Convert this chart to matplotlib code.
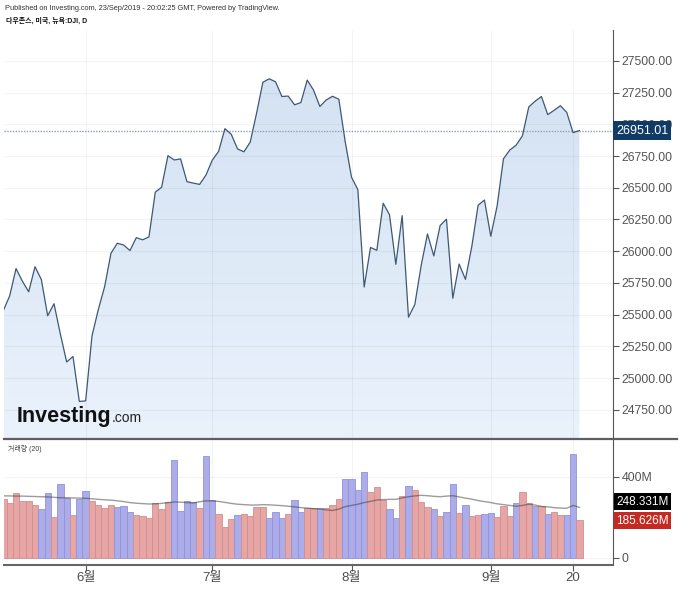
import numpy as np
import matplotlib.pyplot as plt
import matplotlib.transforms as mtransforms
from matplotlib.colors import LinearSegmentedColormap
from matplotlib.lines import Line2D
from matplotlib.patches import Polygon

plt.rcParams['font.family'] = ['Liberation Sans', 'Noto Sans CJK KR']

# daily closes, 14 May 2019 .. 23 Sep 2019 (trading days)
closes = [25532.05, 25648.02, 25862.68, 25764.00, 25679.90, 25877.33, 25776.61, 25490.47, 25585.69,
          25347.77, 25126.41, 25169.88, 24815.04,
          24819.78, 25332.18, 25539.57, 25720.66, 25983.94, 26062.68, 26048.51, 26004.83, 26106.77,
          26089.61, 26112.53, 26465.54, 26504.00, 26753.17, 26719.13, 26727.54, 26548.22, 26536.82,
          26526.58, 26599.96,
          26717.43, 26786.68, 26966.00, 26922.12, 26806.14, 26783.49, 26860.20, 27088.08, 27332.03,
          27359.16, 27335.63, 27219.85, 27222.97, 27154.20, 27171.90, 27349.19, 27269.97, 27140.98,
          27192.45, 27221.35, 27198.02, 26864.27,
          26583.42, 26485.01, 25717.74, 26029.52, 26007.07, 26378.19, 26287.44, 25896.44, 26279.91,
          25479.42, 25579.39, 25886.01, 26135.79, 25962.44, 26202.73, 26252.24, 25628.90, 25898.83,
          25777.90, 26036.10, 26362.25, 26403.28,
          26118.02, 26355.47, 26728.15, 26797.46, 26835.51, 26909.43, 27137.04, 27182.45, 27219.52,
          27076.82, 27110.80, 27147.08, 27094.79, 26935.07, 26951.01]

# volume in millions, r = up candle, b = down candle
volumes = [290, 270, 318, 280, 280, 258, 239, 318, 201, 364, 295, 212, 290,
           328, 280, 258, 245, 258, 250, 253, 224, 212, 207, 196, 270, 240, 275, 484, 229, 280, 275,
           245, 500,
           283, 218, 151, 190, 212, 218, 207, 250, 250, 197, 224, 197, 218, 285, 224, 246, 245, 243,
           243, 259, 290, 388,
           388, 333, 421, 322, 349, 283, 239, 197, 306, 353, 334, 276, 251, 239, 207, 224, 364, 223,
           258, 207, 211, 217,
           222, 201, 255, 207, 270, 323, 270, 253, 253, 217, 224, 212, 212, 510, 185.626]
vol_dir = list('rrrrrrbbrbbrb'
               'brrrrbbbrrrrrrbbbbrb'
               'brrrbrrrrbbbrbbrrbrrrb'
               'bbbrrrbbrbrrrbrbbrbrrb'
               'brrrbrrbrbrrbbr')

# 20-day volume average
vol_ma = [305, 305, 304, 304, 303, 302, 301, 300, 298, 296, 296, 295, 294, 293, 291, 288, 286, 284,
          281, 277, 272, 269, 267, 265, 266, 268, 272, 275, 274, 272, 270, 276, 281, 280, 278, 273,
          268, 264, 262, 260, 260, 262, 261, 259, 257, 254, 251, 247, 245, 242, 240, 236, 233, 240,
          252, 258, 264, 272, 278, 285, 287, 288, 288, 295, 301, 305, 308, 306, 303, 301, 304, 306,
          300, 294, 289, 282, 277, 272, 266, 262, 258, 254, 258, 264, 260, 253, 251, 247, 245, 244,
          258, 248.331]

month_ticks = [13, 33, 55, 77, 90]
month_labels = ['6월', '7월', '8월', '9월', '20']
price_ticks = np.arange(24750, 27501, 250)
vol_ticks = [0, 400]
vol_tick_labels = ['0', '400M']

x = np.arange(len(closes))
W, H = 680, 591
fig = plt.figure(figsize=(W / 100, H / 100), dpi=100)

ax = fig.add_axes([4 / W, (H - 438) / H, 609 / W, 408 / H])
axv = fig.add_axes([4 / W, (H - 565) / H, 609 / W, 125 / H])

xl = (0.1, 0.1 + 609 / 6.33)
ylo, yhi = 24527, 27744

# gradient area under the line
verts = list(zip(x, closes)) + [(x[-1], ylo), (x[0], ylo)]
clip = Polygon(verts, closed=True, facecolor='none', edgecolor='none')
ax.add_patch(clip)
cmap = LinearSegmentedColormap.from_list('fill', ['#eaf2fc', '#d1e0f2'])
im = ax.imshow(np.linspace(0, 1, 256).reshape(-1, 1), extent=[x[0], x[-1], ylo, yhi],
               aspect='auto', origin='lower', cmap=cmap, zorder=1)
im.set_clip_path(clip)
ax.plot(x, closes, color='#3f5873', lw=0.9, zorder=3)
ax.axhline(closes[-1], color='#8ba1b9', lw=1, ls=(0, (1, 1)), zorder=2.8)

ax.set_xlim(xl)
ax.set_ylim(ylo, yhi)
ax.set_xticks(month_ticks)
ax.set_yticks(price_ticks)
ax.set_yticklabels(['%.2f' % p for p in price_ticks])
ax.set_axisbelow(False)
ax.grid(True, color='#000000', alpha=0.045, lw=0.8)
ax.yaxis.tick_right()
ax.tick_params(axis='y', direction='out', length=4, color='#555555', labelcolor='#555555',
               labelsize=8.8, pad=2)
ax.tick_params(axis='x', length=0, labelbottom=False)
for s in ['top', 'left', 'bottom']:
    ax.spines[s].set_visible(False)
ax.spines['right'].set_color('#555555')

trans = mtransforms.blended_transform_factory(ax.transAxes, ax.transData)
ax.text(1.005, closes[-1], '%.2f' % closes[-1], transform=trans, ha='left', va='center',
        color='white', fontsize=9, clip_on=False, zorder=10,
        bbox=dict(boxstyle='square,pad=0.25', fc='#0f3b66', ec='none'))

# volume panel
bar_fc = ['#e6a6a6' if d == 'r' else '#acace8' for d in vol_dir]
bar_ec = ['#d48d8d' if d == 'r' else '#9191dc' for d in vol_dir]
axv.bar(x, volumes, width=1.0, color=bar_fc, edgecolor=bar_ec, linewidth=0.6, zorder=2)
axv.plot(x, vol_ma, color='#3a3a3a', alpha=0.5, lw=1.0, zorder=3)
axv.set_xlim(xl)
axv.set_ylim(-36, 581)
axv.set_yticks(vol_ticks)
axv.set_yticklabels(vol_tick_labels)
axv.set_xticks(month_ticks)
axv.set_xticklabels(month_labels)
axv.grid(True, color='#000000', alpha=0.045, lw=0.8)
axv.set_axisbelow(True)
axv.yaxis.tick_right()
axv.tick_params(axis='y', direction='out', length=4, color='#555555', labelcolor='#555555',
                labelsize=8.8, pad=2)
axv.tick_params(axis='x', direction='out', length=4, color='#555555', labelcolor='#4d4d4d',
                labelsize=9.5, pad=1)
for s in ['top', 'left']:
    axv.spines[s].set_visible(False)
axv.spines['right'].set_color('#555555')
axv.spines['bottom'].set_color('#666666')
axv.spines['bottom'].set_linewidth(1.5)

vtrans = mtransforms.blended_transform_factory(axv.transAxes, axv.transData)
axv.annotate('%.3fM' % vol_ma[-1], xy=(1.0, vol_ma[-1]), xycoords=vtrans, xytext=(2.5, 4),
             textcoords='offset points', ha='left', va='center', color='white', fontsize=8.5,
             annotation_clip=False, zorder=10,
             bbox=dict(boxstyle='square,pad=0.2', fc='black', ec='none'))
axv.annotate('%.3fM' % volumes[-1], xy=(1.0, volumes[-1]), xycoords=vtrans, xytext=(2.5, -0.5),
             textcoords='offset points', ha='left', va='center', color='white', fontsize=8.5,
             annotation_clip=False, zorder=10,
             bbox=dict(boxstyle='square,pad=0.2', fc='#c42a22', ec='none'))
axv.text(4 / 609, 1 - 9 / 125, '거래량 (20)', transform=axv.transAxes, fontsize=5,
         color='#444444', va='center', ha='left')

# separator between panels
fig.add_artist(Line2D([4 / W, 677 / W], [(H - 439) / H] * 2, color='#5e5e5e', lw=1.6))

# header
fig.text(5 / W, 1 - 9 / H, 'Published on Investing.com, 23/Sep/2019 - 20:02:25 GMT, Powered by TradingView.',
         fontsize=5.35, color='#333333', va='center', ha='left')
fig.text(6 / W, 1 - 21 / H, '다우존스, 미국, 뉴욕:DJI, D', fontsize=5.0, color='#111111',
         fontweight='bold', va='center', ha='left')

# logo
fig.text(17 / W, (H - 422) / H, 'Investing', fontsize=15.5, fontweight='bold', color='#111111',
         va='baseline', ha='left')
fig.text(112 / W, (H - 422) / H, '.com', fontsize=10, color='#222222', va='baseline', ha='left')

fig.savefig('out.png', dpi=100)
